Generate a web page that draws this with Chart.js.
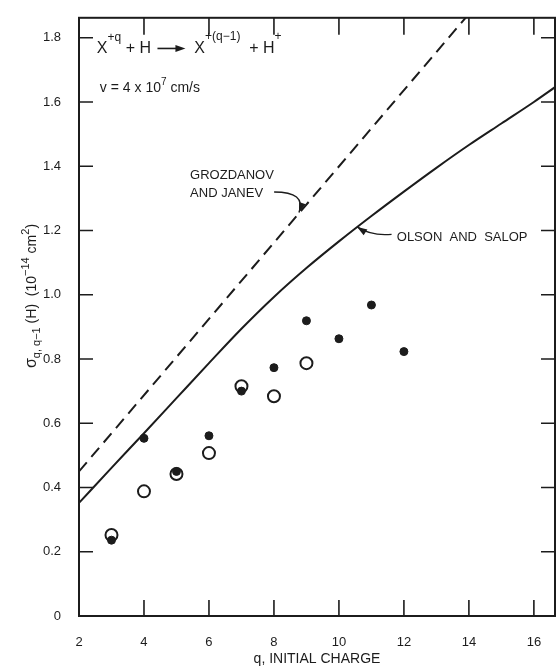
<!DOCTYPE html>
<html>
<head>
<meta charset="utf-8">
<script src="https://cdn.jsdelivr.net/npm/chart.js@4.4.1/dist/chart.umd.min.js"></script>
<style>
    html, body { margin: 0; padding: 0; background: #fff; }
    #wrap { width: 556px; height: 668px; }
</style>
</head>
<body>
<div id="wrap"><canvas id="chart" width="556" height="668"></canvas></div>
<script>
// values
const qLine = [2, 3, 4, 5, 6, 7, 8, 9, 10, 11, 12, 13, 14, 15, 16, 16.65];
const olsonSalop = [0.352, 0.461, 0.569, 0.678, 0.787, 0.894, 0.993, 1.083, 1.166, 1.245, 1.321, 1.395, 1.466, 1.533, 1.600, 1.646];

const qDash = [2, 14];
const grozdanovJanev = [0.45, 1.874];

const qOpen = [3, 4, 5, 6, 7, 8, 9];
const openVals = [0.252, 0.388, 0.442, 0.507, 0.715, 0.684, 0.787];

const qFilled = [3, 4, 5, 6, 7, 8, 9, 10, 11, 12];
const filledVals = [0.236, 0.553, 0.450, 0.561, 0.700, 0.773, 0.919, 0.863, 0.968, 0.823];

const xTicks = [2, 4, 6, 8, 10, 12, 14, 16];
const yTicks = [0, 0.2, 0.4, 0.6, 0.8, 1.0, 1.2, 1.4, 1.6, 1.8];

const INK = '#1c1c1c';
const FONT = '"Liberation Sans", Arial, sans-serif';

function pairs(xs, ys) {
    return xs.map((x, i) => ({ x: x, y: ys[i] }));
}

// draw a row of text pieces (sub/superscripts), returns width
function drawRuns(ctx, x, y, runs, measureOnly) {
    let cx = x;
    for (let r of runs) {
        if (r.arrow) {
            if (!measureOnly) {
                ctx.beginPath();
                ctx.lineWidth = 1.6;
                ctx.moveTo(cx + 2, y - 5);
                ctx.lineTo(cx + r.arrow - 8, y - 5);
                ctx.stroke();
                ctx.beginPath();
                ctx.moveTo(cx + r.arrow, y - 5);
                ctx.lineTo(cx + r.arrow - 10, y - 8.5);
                ctx.lineTo(cx + r.arrow - 10, y - 1.5);
                ctx.closePath();
                ctx.fill();
            }
            cx += r.arrow;
            continue;
        }
        ctx.font = r.size + 'px ' + FONT;
        if (!measureOnly) ctx.fillText(r.t, cx, y + (r.dy || 0));
        cx += ctx.measureText(r.t).width;
    }
    return cx - x;
}

function curvedArrow(ctx, x0, y0, cxp, cyp, x1, y1) {
    ctx.beginPath();
    ctx.lineWidth = 1.4;
    ctx.moveTo(x0, y0);
    ctx.quadraticCurveTo(cxp, cyp, x1, y1);
    ctx.stroke();
    // head along the final tangent
    let ang = Math.atan2(y1 - cyp, x1 - cxp);
    let len = 10, half = 3.5;
    ctx.beginPath();
    ctx.moveTo(x1, y1);
    ctx.lineTo(x1 - len * Math.cos(ang) + half * Math.sin(ang), y1 - len * Math.sin(ang) - half * Math.cos(ang));
    ctx.lineTo(x1 - len * Math.cos(ang) - half * Math.sin(ang), y1 - len * Math.sin(ang) + half * Math.cos(ang));
    ctx.closePath();
    ctx.fill();
}

const decor = {
    id: 'decor',
    afterDraw(chart) {
        const ctx = chart.ctx;
        const a = chart.chartArea;
        const xs = chart.scales.x, ys = chart.scales.y;
        ctx.save();
        ctx.strokeStyle = INK;
        ctx.fillStyle = INK;

        // frame
        ctx.lineWidth = 2;
        ctx.strokeRect(a.left, a.top, a.right - a.left, a.bottom - a.top);

        // inward ticks
        ctx.lineWidth = 1.6;
        ctx.beginPath();
        for (let v of xTicks) {
            if (v === xs.min) continue;
            let px = xs.getPixelForValue(v);
            ctx.moveTo(px, a.bottom); ctx.lineTo(px, a.bottom - 16);
            ctx.moveTo(px, a.top); ctx.lineTo(px, a.top + 17);
        }
        for (let v of yTicks) {
            if (v === 0) continue;
            let py = ys.getPixelForValue(v);
            ctx.moveTo(a.left, py); ctx.lineTo(a.left + 14, py);
            ctx.moveTo(a.right, py); ctx.lineTo(a.right - 14, py);
        }
        ctx.stroke();

        ctx.textBaseline = 'alphabetic';
        ctx.textAlign = 'left';

        // reaction
        let rx = xs.getPixelForValue(2.55), ry = ys.getPixelForValue(1.751);
        drawRuns(ctx, rx, ry, [
            { t: 'X', size: 16 }, { t: '+q', size: 12, dy: -12 },
            { t: ' + H ', size: 16 }, { arrow: 30 },
            { t: '  X', size: 16 }, { t: '+(q\u22121)', size: 12, dy: -13 },
            { t: '  + H', size: 16 }, { t: '+', size: 12, dy: -13 }
        ]);
        let vy = ys.getPixelForValue(1.632);
        drawRuns(ctx, rx + 3, vy, [
            { t: 'v = 4 x 10', size: 14 }, { t: '7', size: 10, dy: -7 }, { t: ' cm/s', size: 14 }
        ]);

        // curve labels
        ctx.font = '13px ' + FONT;
        let gx = xs.getPixelForValue(5.42);
        ctx.fillText('GROZDANOV', gx, ys.getPixelForValue(1.36));
        ctx.fillText('AND JANEV', gx, ys.getPixelForValue(1.303));
        curvedArrow(ctx, gx + 84, ys.getPixelForValue(1.32),
            xs.getPixelForValue(9.0), ys.getPixelForValue(1.32),
            xs.getPixelForValue(8.77), ys.getPixelForValue(1.256));

        ctx.fillText('OLSON  AND  SALOP', xs.getPixelForValue(11.78), ys.getPixelForValue(1.168));
        curvedArrow(ctx, xs.getPixelForValue(11.62), ys.getPixelForValue(1.188),
            xs.getPixelForValue(11.0), ys.getPixelForValue(1.182),
            xs.getPixelForValue(10.56), ys.getPixelForValue(1.211));

        // axis titles
        ctx.font = '14px ' + FONT;
        ctx.textAlign = 'center';
        ctx.fillText('q, INITIAL CHARGE', (a.left + a.right) / 2, 663);

        ctx.textAlign = 'left';
        const yTitle = [
            { t: '\u03c3', size: 16 }, { t: 'q, q\u22121', size: 11, dy: 4 },
            { t: ' (H)  (10', size: 14 }, { t: '\u221214', size: 11, dy: -7 },
            { t: ' cm', size: 14 }, { t: '2', size: 11, dy: -7 }, { t: ')', size: 14 }
        ];
        ctx.translate(36, 296);
        ctx.rotate(-Math.PI / 2);
        let w = drawRuns(ctx, 0, 0, yTitle, true);
        drawRuns(ctx, -w / 2, 0, yTitle);
        ctx.restore();
    }
};

new Chart(document.getElementById('chart'), {
    type: 'scatter',
    data: {
        datasets: [
            {
                label: 'filled',
                data: pairs(qFilled, filledVals),
                pointRadius: 4,
                pointBackgroundColor: INK,
                pointBorderColor: INK,
                pointBorderWidth: 1,
                order: 0
            },
            {
                label: 'open',
                data: pairs(qOpen, openVals),
                pointRadius: 6,
                pointBackgroundColor: 'rgba(0,0,0,0)',
                pointBorderColor: INK,
                pointBorderWidth: 2,
                order: 1
            },
            {
                label: 'Olson and Salop',
                data: pairs(qLine, olsonSalop),
                showLine: true,
                pointRadius: 0,
                borderColor: INK,
                borderWidth: 2,
                cubicInterpolationMode: 'monotone',
                order: 2
            },
            {
                label: 'Grozdanov and Janev',
                data: pairs(qDash, grozdanovJanev),
                showLine: true,
                pointRadius: 0,
                borderColor: INK,
                borderWidth: 2,
                borderDash: [12, 7],
                tension: 0,
                order: 3
            }
        ]
    },
    options: {
        responsive: false,
        animation: false,
        layout: { autoPadding: false, padding: { top: 12, right: 1, left: 0, bottom: 0 } },
        plugins: {
            legend: { display: false },
            tooltip: { enabled: false }
        },
        scales: {
            x: {
                type: 'linear',
                min: 2,
                max: 16.65,
                grid: { display: false },
                border: { display: false },
                afterBuildTicks: s => { s.ticks = xTicks.map(v => ({ value: v })); },
                afterFit: s => { s.height = 52; },
                ticks: {
                    padding: 11,
                    color: INK,
                    font: { family: FONT, size: 13 },
                    callback: v => String(v)
                }
            },
            y: {
                min: 0,
                max: 1.862,
                grid: { display: false },
                border: { display: false },
                afterBuildTicks: s => { s.ticks = yTicks.map(v => ({ value: v })); },
                afterFit: s => { s.width = 79; },
                ticks: {
                    padding: 10,
                    color: INK,
                    font: { family: FONT, size: 13 },
                    callback: v => v === 0 ? '0' : v.toFixed(1)
                }
            }
        }
    },
    plugins: [decor]
});
</script>
</body>
</html>
